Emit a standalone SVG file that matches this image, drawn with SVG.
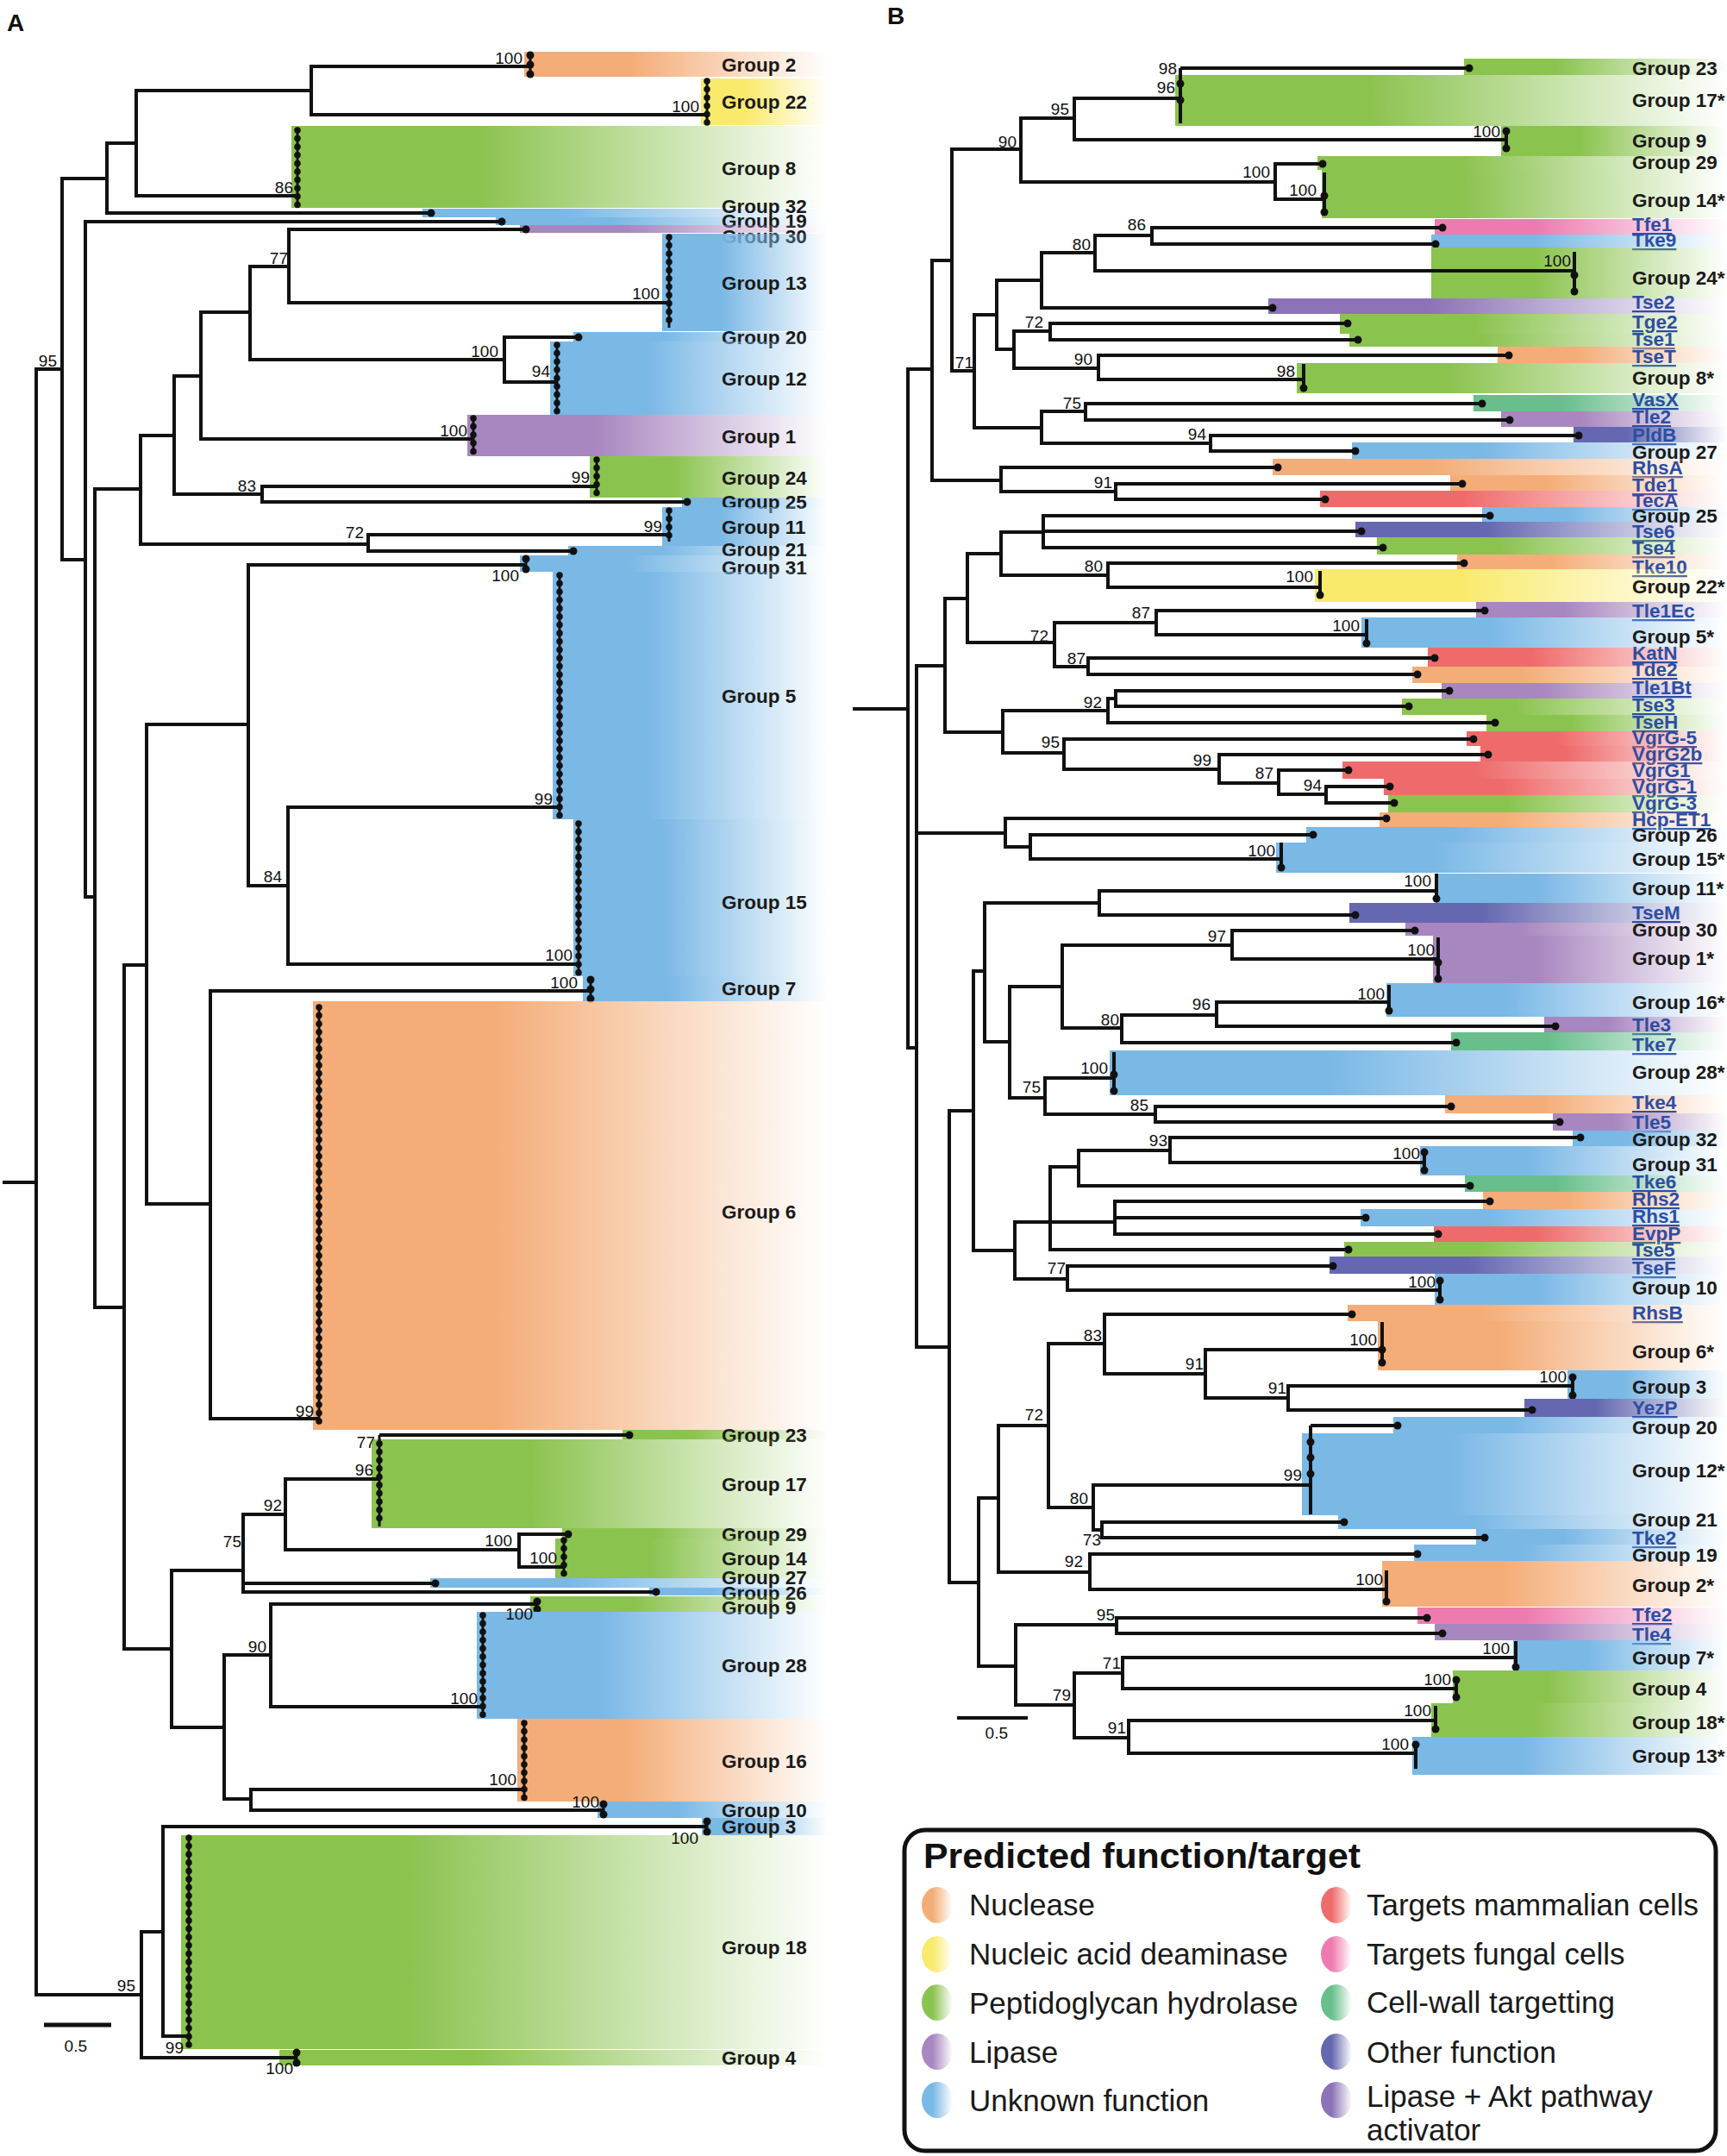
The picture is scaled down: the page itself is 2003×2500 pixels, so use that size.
<svg xmlns="http://www.w3.org/2000/svg" width="2003" height="2500" viewBox="0 0 2003 2500">
<defs>
<linearGradient id="gO"><stop offset="0" stop-color="#f4ad78"/><stop offset="0.35" stop-color="#f4ad78"/><stop offset="1" stop-color="#f4ad78" stop-opacity="0"/></linearGradient>
<linearGradient id="gY"><stop offset="0" stop-color="#f9ea6c"/><stop offset="0.35" stop-color="#f9ea6c"/><stop offset="1" stop-color="#f9ea6c" stop-opacity="0"/></linearGradient>
<linearGradient id="gG"><stop offset="0" stop-color="#8bc34f"/><stop offset="0.35" stop-color="#8bc34f"/><stop offset="1" stop-color="#8bc34f" stop-opacity="0"/></linearGradient>
<linearGradient id="gP"><stop offset="0" stop-color="#a886bf"/><stop offset="0.35" stop-color="#a886bf"/><stop offset="1" stop-color="#a886bf" stop-opacity="0"/></linearGradient>
<linearGradient id="gB"><stop offset="0" stop-color="#7ab8e6"/><stop offset="0.35" stop-color="#7ab8e6"/><stop offset="1" stop-color="#7ab8e6" stop-opacity="0"/></linearGradient>
<linearGradient id="gR"><stop offset="0" stop-color="#ef6b6b"/><stop offset="0.35" stop-color="#ef6b6b"/><stop offset="1" stop-color="#ef6b6b" stop-opacity="0"/></linearGradient>
<linearGradient id="gK"><stop offset="0" stop-color="#ee7bb0"/><stop offset="0.35" stop-color="#ee7bb0"/><stop offset="1" stop-color="#ee7bb0" stop-opacity="0"/></linearGradient>
<linearGradient id="gT"><stop offset="0" stop-color="#68bf8c"/><stop offset="0.35" stop-color="#68bf8c"/><stop offset="1" stop-color="#68bf8c" stop-opacity="0"/></linearGradient>
<linearGradient id="gI"><stop offset="0" stop-color="#6568b0"/><stop offset="0.35" stop-color="#6568b0"/><stop offset="1" stop-color="#6568b0" stop-opacity="0"/></linearGradient>
<linearGradient id="gA"><stop offset="0" stop-color="#8c73b7"/><stop offset="0.35" stop-color="#8c73b7"/><stop offset="1" stop-color="#8c73b7" stop-opacity="0"/></linearGradient>
</defs>
<style>
.br{fill:none;stroke:#111;stroke-width:4}
.cl{fill:none;stroke:#111;stroke-width:3}
.dt{fill:none;stroke:#111;stroke-width:7.5;stroke-linecap:round;stroke-dasharray:0 9.6}
.tp{fill:#111}
.gl{font-family:"Liberation Sans",Arial,sans-serif;font-weight:bold;font-size:22.5px;fill:#1a1a1a}
.ul{font-family:"Liberation Sans",Arial,sans-serif;font-weight:bold;font-size:22.5px;fill:#2d4ea3;text-decoration:underline}
.bs{font-family:"Liberation Sans",Arial,sans-serif;font-size:19px;fill:#111;text-anchor:end}
.pl{font-family:"Liberation Sans",Arial,sans-serif;font-weight:bold;font-size:28px;fill:#111}
.lt{font-family:"Liberation Sans",Arial,sans-serif;font-size:35px;fill:#1a1a1a}
.lh{font-family:"Liberation Sans",Arial,sans-serif;font-weight:bold;font-size:40px;fill:#111}
.o{fill:url(#gO)}.y{fill:url(#gY)}.g{fill:url(#gG)}.p{fill:url(#gP)}.b{fill:url(#gB)}.r{fill:url(#gR)}.k{fill:url(#gK)}.t{fill:url(#gT)}.i{fill:url(#gI)}.a{fill:url(#gA)}
</style>
<rect width="2003" height="2500" fill="#fff"/>
<text class="pl" x="8" y="36">A</text>
<text class="pl" x="1029" y="28">B</text>

<!-- Panel A leaves -->
<g id="A-leaves">
<g id="a-group2"><rect class="o" x="608" y="60" width="352" height="29"/><path class="cl" d="M615 64V86"/><circle class="tp" cx="615" cy="64" r="4.5"/><circle class="tp" cx="615" cy="75" r="4.5"/><circle class="tp" cx="615" cy="86" r="4.5"/><text class="gl" x="837" y="83">Group 2</text></g>
<g id="a-group22"><rect class="y" x="813" y="91" width="147" height="54"/><path class="cl" d="M820 94V143"/><path class="dt" d="M820 94V143"/><text class="gl" x="837" y="126">Group 22</text></g>
<g id="a-group8"><rect class="g" x="338" y="146" width="622" height="95"/><path class="cl" d="M345 151V238"/><path class="dt" d="M345 151V238"/><text class="gl" x="837" y="203">Group 8</text></g>
<g id="a-group32"><rect class="b" x="490" y="242" width="470" height="10"/><circle class="tp" cx="500" cy="247" r="4.5"/><text class="gl" x="837" y="247">Group 32</text></g>
<g id="a-group19"><rect class="b" x="575" y="252" width="385" height="9"/><circle class="tp" cx="582" cy="257" r="4.5"/><text class="gl" x="837" y="264">Group 19</text></g>
<g id="a-group30"><rect class="p" x="603" y="261" width="357" height="9"/><circle class="tp" cx="610" cy="266" r="4.5"/><text class="gl" x="837" y="282">Group 30</text></g>
<g id="a-group13"><rect class="b" x="768" y="271" width="192" height="113"/><path class="cl" d="M776 275V380"/><path class="dt" d="M776 275V380"/><text class="gl" x="837" y="336">Group 13</text></g>
<g id="a-group20"><rect class="b" x="665" y="385" width="295" height="11"/><circle class="tp" cx="671" cy="391" r="4.5"/><text class="gl" x="837" y="399">Group 20</text></g>
<g id="a-group12"><rect class="b" x="638" y="396" width="322" height="85"/><path class="cl" d="M646 400V477"/><path class="dt" d="M646 400V477"/><text class="gl" x="837" y="447">Group 12</text></g>
<g id="a-group1"><rect class="p" x="542" y="481" width="418" height="48"/><path class="cl" d="M549 485V525"/><path class="dt" d="M549 485V525"/><text class="gl" x="837" y="514">Group 1</text></g>
<g id="a-group24"><rect class="g" x="684" y="529" width="276" height="48"/><path class="cl" d="M692 533V573"/><path class="dt" d="M692 533V573"/><text class="gl" x="837" y="562">Group 24</text></g>
<g id="a-group25"><rect class="b" x="791" y="577" width="169" height="11"/><circle class="tp" cx="797" cy="582" r="4.5"/><text class="gl" x="837" y="590">Group 25</text></g>
<g id="a-group11"><rect class="b" x="768" y="588" width="192" height="45"/><path class="cl" d="M776 592V628"/><path class="dt" d="M776 592V628"/><text class="gl" x="837" y="619">Group 11</text></g>
<g id="a-group21"><rect class="b" x="659" y="633" width="301" height="11"/><circle class="tp" cx="665" cy="639" r="4.5"/><text class="gl" x="837" y="645">Group 21</text></g>
<g id="a-group31"><rect class="b" x="603" y="644" width="357" height="19"/><path class="cl" d="M610 648V660"/><circle class="tp" cx="610" cy="648" r="4.5"/><circle class="tp" cx="610" cy="660" r="4.5"/><text class="gl" x="837" y="666">Group 31</text></g>
<g id="a-group5"><rect class="b" x="641" y="663" width="319" height="287"/><path class="cl" d="M649 667V946"/><path class="dt" d="M649 667V946"/><text class="gl" x="837" y="815">Group 5</text></g>
<g id="a-group15"><rect class="b" x="665" y="950" width="295" height="182"/><path class="cl" d="M671 955V1128"/><path class="dt" d="M671 955V1128"/><text class="gl" x="837" y="1054">Group 15</text></g>
<g id="a-group7"><rect class="b" x="676" y="1132" width="284" height="29"/><path class="cl" d="M685 1136V1158"/><circle class="tp" cx="685" cy="1136" r="4.5"/><circle class="tp" cx="685" cy="1147" r="4.5"/><circle class="tp" cx="685" cy="1158" r="4.5"/><text class="gl" x="837" y="1154">Group 7</text></g>
<g id="a-group6"><rect class="o" x="363" y="1161" width="597" height="497"/><path class="cl" d="M370 1168V1651"/><path class="dt" d="M370 1168V1651"/><text class="gl" x="837" y="1413">Group 6</text></g>
<g id="a-group23"><rect class="g" x="722" y="1658" width="238" height="11"/><circle class="tp" cx="730" cy="1664" r="4.5"/><text class="gl" x="837" y="1672">Group 23</text></g>
<g id="a-group17"><rect class="g" x="431" y="1669" width="529" height="103"/><path class="cl" d="M440 1664V1770"/><path class="dt" d="M440 1674V1770"/><text class="gl" x="837" y="1729">Group 17</text></g>
<g id="a-group29"><rect class="g" x="652" y="1772" width="308" height="12"/><circle class="tp" cx="659" cy="1779" r="4.5"/><text class="gl" x="837" y="1787">Group 29</text></g>
<g id="a-group14"><rect class="g" x="644" y="1784" width="316" height="46"/><path class="cl" d="M654 1786V1828"/><path class="dt" d="M654 1786V1828"/><text class="gl" x="837" y="1815">Group 14</text></g>
<g id="a-group27"><rect class="b" x="499" y="1830" width="461" height="11"/><circle class="tp" cx="505" cy="1836" r="4.5"/><text class="gl" x="837" y="1837">Group 27</text></g>
<g id="a-group26"><rect class="b" x="753" y="1841" width="207" height="9"/><circle class="tp" cx="761" cy="1846" r="4.5"/><text class="gl" x="837" y="1855">Group 26</text></g>
<g id="a-group9"><rect class="g" x="615" y="1851" width="345" height="18"/><path class="cl" d="M623 1857V1866"/><circle class="tp" cx="623" cy="1857" r="4.5"/><circle class="tp" cx="623" cy="1866" r="4.5"/><text class="gl" x="837" y="1872">Group 9</text></g>
<g id="a-group28"><rect class="b" x="553" y="1869" width="407" height="124"/><path class="cl" d="M560 1873V1990"/><path class="dt" d="M560 1873V1990"/><text class="gl" x="837" y="1939">Group 28</text></g>
<g id="a-group16"><rect class="o" x="600" y="1993" width="360" height="96"/><path class="cl" d="M608 1998V2085"/><path class="dt" d="M608 1998V2085"/><text class="gl" x="837" y="2050">Group 16</text></g>
<g id="a-group10"><rect class="b" x="693" y="2089" width="267" height="19"/><path class="cl" d="M700 2092V2104"/><circle class="tp" cx="700" cy="2092" r="4.5"/><circle class="tp" cx="700" cy="2104" r="4.5"/><text class="gl" x="837" y="2107">Group 10</text></g>
<g id="a-group3"><rect class="b" x="814" y="2108" width="146" height="20"/><path class="cl" d="M820 2112V2124"/><circle class="tp" cx="820" cy="2112" r="4.5"/><circle class="tp" cx="820" cy="2124" r="4.5"/><text class="gl" x="837" y="2126">Group 3</text></g>
<g id="a-group18"><rect class="g" x="210" y="2128" width="750" height="248"/><path class="cl" d="M219 2131V2372"/><path class="dt" d="M219 2131V2372"/><text class="gl" x="837" y="2266">Group 18</text></g>
<g id="a-group4"><rect class="g" x="324" y="2377" width="636" height="18"/><path class="cl" d="M344 2380V2392"/><circle class="tp" cx="344" cy="2380" r="4.5"/><circle class="tp" cx="344" cy="2392" r="4.5"/><text class="gl" x="837" y="2394">Group 4</text></g>
</g>

<!-- Panel B leaves -->
<g id="B-leaves">
<g id="b-group23"><rect class="g" x="1698" y="68" width="305" height="19"/><circle class="tp" cx="1704" cy="79" r="4.5"/><text class="gl" x="1893" y="87">Group 23</text></g>
<g id="b-group17"><rect class="g" x="1363" y="87" width="640" height="59"/><path class="br" d="M1369 79V143"/><circle class="tp" cx="1369" cy="97" r="4.5"/><circle class="tp" cx="1369" cy="116" r="4.5"/><text class="gl" x="1893" y="124">Group 17*</text></g>
<g id="b-group9"><rect class="g" x="1741" y="146" width="262" height="35"/><path class="br" d="M1747 152V172"/><circle class="tp" cx="1747" cy="152" r="4.5"/><circle class="tp" cx="1747" cy="172" r="4.5"/><text class="gl" x="1893" y="171">Group 9</text></g>
<g id="b-group29"><rect class="g" x="1528" y="181" width="475" height="16"/><circle class="tp" cx="1534" cy="190" r="4.5"/><text class="gl" x="1893" y="196">Group 29</text></g>
<g id="b-group14"><rect class="g" x="1533" y="197" width="470" height="56"/><path class="br" d="M1536 200V247"/><circle class="tp" cx="1536" cy="227" r="4.5"/><circle class="tp" cx="1536" cy="246" r="4.5"/><text class="gl" x="1893" y="240">Group 14*</text></g>
<g id="b-tfe1"><rect class="k" x="1664" y="254" width="339" height="18"/><circle class="tp" cx="1673" cy="264" r="4.5"/><text class="ul" x="1893" y="268">Tfe1</text></g>
<g id="b-tke9"><rect class="b" x="1660" y="272" width="343" height="15"/><circle class="tp" cx="1665" cy="283" r="4.5"/><text class="ul" x="1893" y="286">Tke9</text></g>
<g id="b-group24"><rect class="g" x="1660" y="287" width="343" height="59"/><path class="br" d="M1826 292V338"/><circle class="tp" cx="1826" cy="319" r="4.5"/><circle class="tp" cx="1826" cy="338" r="4.5"/><text class="gl" x="1893" y="330">Group 24*</text></g>
<g id="b-tse2"><rect class="a" x="1471" y="346" width="532" height="18"/><circle class="tp" cx="1476" cy="357" r="4.5"/><text class="ul" x="1893" y="358">Tse2</text></g>
<g id="b-tge2"><rect class="g" x="1554" y="364" width="449" height="23"/><circle class="tp" cx="1563" cy="375" r="4.5"/><text class="ul" x="1893" y="381">Tge2</text></g>
<g id="b-tse1"><rect class="g" x="1565" y="387" width="438" height="15"/><circle class="tp" cx="1575" cy="394" r="4.5"/><text class="ul" x="1893" y="401">Tse1</text></g>
<g id="b-tset"><rect class="o" x="1737" y="402" width="266" height="19"/><circle class="tp" cx="1750" cy="412" r="4.5"/><text class="ul" x="1893" y="421">TseT</text></g>
<g id="b-group8"><rect class="g" x="1504" y="421" width="499" height="35"/><path class="br" d="M1512 422V450"/><circle class="tp" cx="1512" cy="450" r="4.5"/><text class="gl" x="1893" y="446">Group 8*</text></g>
<g id="b-vasx"><rect class="t" x="1709" y="458" width="294" height="19"/><circle class="tp" cx="1719" cy="468" r="4.5"/><text class="ul" x="1893" y="471">VasX</text></g>
<g id="b-tle2"><rect class="p" x="1741" y="477" width="262" height="18"/><circle class="tp" cx="1751" cy="487" r="4.5"/><text class="ul" x="1893" y="491">Tle2</text></g>
<g id="b-pldb"><rect class="i" x="1825" y="495" width="178" height="18"/><circle class="tp" cx="1831" cy="505" r="4.5"/><text class="ul" x="1893" y="512">PldB</text></g>
<g id="b-group27"><rect class="b" x="1568" y="513" width="435" height="19"/><circle class="tp" cx="1572" cy="523" r="4.5"/><text class="gl" x="1893" y="532">Group 27</text></g>
<g id="b-rhsa"><rect class="o" x="1476" y="532" width="527" height="19"/><circle class="tp" cx="1482" cy="542" r="4.5"/><text class="ul" x="1893" y="550">RhsA</text></g>
<g id="b-tde1"><rect class="o" x="1682" y="551" width="321" height="18"/><circle class="tp" cx="1696" cy="561" r="4.5"/><text class="ul" x="1893" y="570">Tde1</text></g>
<g id="b-teca"><rect class="r" x="1531" y="569" width="472" height="19"/><circle class="tp" cx="1537" cy="579" r="4.5"/><text class="ul" x="1893" y="588">TecA</text></g>
<g id="b-group25"><rect class="b" x="1719" y="588" width="284" height="17"/><circle class="tp" cx="1728" cy="598" r="4.5"/><text class="gl" x="1893" y="606">Group 25</text></g>
<g id="b-tse6"><rect class="i" x="1572" y="605" width="431" height="18"/><circle class="tp" cx="1579" cy="616" r="4.5"/><text class="ul" x="1893" y="624">Tse6</text></g>
<g id="b-tse4"><rect class="g" x="1597" y="623" width="406" height="20"/><circle class="tp" cx="1604" cy="635" r="4.5"/><text class="ul" x="1893" y="643">Tse4</text></g>
<g id="b-tke10"><rect class="o" x="1690" y="643" width="313" height="17"/><circle class="tp" cx="1698" cy="653" r="4.5"/><text class="ul" x="1893" y="665">Tke10</text></g>
<g id="b-group22"><rect class="y" x="1525" y="660" width="478" height="38"/><path class="br" d="M1531 662V690"/><circle class="tp" cx="1531" cy="690" r="4.5"/><text class="gl" x="1893" y="688">Group 22*</text></g>
<g id="b-tle1ec"><rect class="p" x="1712" y="698" width="291" height="18"/><circle class="tp" cx="1722" cy="708" r="4.5"/><text class="ul" x="1893" y="716">Tle1Ec</text></g>
<g id="b-group5"><rect class="b" x="1579" y="716" width="424" height="35"/><path class="br" d="M1585 718V746"/><circle class="tp" cx="1585" cy="746" r="4.5"/><text class="gl" x="1893" y="746">Group 5*</text></g>
<g id="b-katn"><rect class="r" x="1656" y="751" width="347" height="22"/><circle class="tp" cx="1664" cy="763" r="4.5"/><text class="ul" x="1893" y="765">KatN</text></g>
<g id="b-tde2"><rect class="o" x="1638" y="773" width="365" height="19"/><circle class="tp" cx="1644" cy="782" r="4.5"/><text class="ul" x="1893" y="784">Tde2</text></g>
<g id="b-tle1bt"><rect class="p" x="1672" y="792" width="331" height="18"/><circle class="tp" cx="1681" cy="801" r="4.5"/><text class="ul" x="1893" y="805">Tle1Bt</text></g>
<g id="b-tse3"><rect class="g" x="1626" y="810" width="377" height="19"/><circle class="tp" cx="1634" cy="819" r="4.5"/><text class="ul" x="1893" y="825">Tse3</text></g>
<g id="b-tseh"><rect class="g" x="1724" y="829" width="279" height="19"/><circle class="tp" cx="1734" cy="838" r="4.5"/><text class="ul" x="1893" y="845">TseH</text></g>
<g id="b-vgrg-5"><rect class="r" x="1701" y="848" width="302" height="17"/><circle class="tp" cx="1709" cy="857" r="4.5"/><text class="ul" x="1893" y="863">VgrG-5</text></g>
<g id="b-vgrg2b"><rect class="r" x="1717" y="865" width="286" height="18"/><circle class="tp" cx="1726" cy="875" r="4.5"/><text class="ul" x="1893" y="882">VgrG2b</text></g>
<g id="b-vgrg1"><rect class="r" x="1557" y="883" width="446" height="20"/><circle class="tp" cx="1564" cy="893" r="4.5"/><text class="ul" x="1893" y="901">VgrG1</text></g>
<g id="b-vgrg-1"><rect class="r" x="1605" y="903" width="398" height="19"/><circle class="tp" cx="1612" cy="912" r="4.5"/><text class="ul" x="1893" y="920">VgrG-1</text></g>
<g id="b-vgrg-3"><rect class="g" x="1610" y="922" width="393" height="20"/><circle class="tp" cx="1617" cy="931" r="4.5"/><text class="ul" x="1893" y="939">VgrG-3</text></g>
<g id="b-hcp-et1"><rect class="o" x="1600" y="942" width="403" height="17"/><circle class="tp" cx="1608" cy="949" r="4.5"/><text class="ul" x="1893" y="958">Hcp-ET1</text></g>
<g id="b-group26"><rect class="b" x="1515" y="959" width="488" height="18"/><circle class="tp" cx="1523" cy="968" r="4.5"/><text class="gl" x="1893" y="976">Group 26</text></g>
<g id="b-group15"><rect class="b" x="1480" y="977" width="523" height="35"/><path class="br" d="M1486 977V1006"/><circle class="tp" cx="1486" cy="1006" r="4.5"/><text class="gl" x="1893" y="1004">Group 15*</text></g>
<g id="b-group11"><rect class="b" x="1665" y="1013" width="338" height="34"/><path class="br" d="M1666 1013V1042"/><circle class="tp" cx="1666" cy="1042" r="4.5"/><text class="gl" x="1893" y="1038">Group 11*</text></g>
<g id="b-tsem"><rect class="i" x="1565" y="1047" width="438" height="23"/><circle class="tp" cx="1572" cy="1061" r="4.5"/><text class="ul" x="1893" y="1066">TseM</text></g>
<g id="b-group30"><rect class="p" x="1630" y="1070" width="373" height="15"/><circle class="tp" cx="1641" cy="1079" r="4.5"/><text class="gl" x="1893" y="1086">Group 30</text></g>
<g id="b-group1"><rect class="p" x="1662" y="1085" width="341" height="55"/><path class="br" d="M1668 1087V1135"/><circle class="tp" cx="1668" cy="1116" r="4.5"/><circle class="tp" cx="1668" cy="1135" r="4.5"/><text class="gl" x="1893" y="1119">Group 1*</text></g>
<g id="b-group16"><rect class="b" x="1608" y="1140" width="395" height="39"/><path class="br" d="M1611 1142V1172"/><circle class="tp" cx="1611" cy="1172" r="4.5"/><text class="gl" x="1893" y="1170">Group 16*</text></g>
<g id="b-tle3"><rect class="p" x="1791" y="1179" width="212" height="18"/><circle class="tp" cx="1804" cy="1190" r="4.5"/><text class="ul" x="1893" y="1196">Tle3</text></g>
<g id="b-tke7"><rect class="t" x="1683" y="1197" width="320" height="21"/><circle class="tp" cx="1689" cy="1209" r="4.5"/><text class="ul" x="1893" y="1219">Tke7</text></g>
<g id="b-group28"><rect class="b" x="1287" y="1218" width="716" height="52"/><path class="br" d="M1292 1220V1265"/><circle class="tp" cx="1292" cy="1246" r="4.5"/><circle class="tp" cx="1292" cy="1265" r="4.5"/><text class="gl" x="1893" y="1251">Group 28*</text></g>
<g id="b-tke4"><rect class="o" x="1676" y="1270" width="327" height="21"/><circle class="tp" cx="1683" cy="1283" r="4.5"/><text class="ul" x="1893" y="1286">Tke4</text></g>
<g id="b-tle5"><rect class="p" x="1801" y="1291" width="202" height="20"/><circle class="tp" cx="1809" cy="1301" r="4.5"/><text class="ul" x="1893" y="1309">Tle5</text></g>
<g id="b-group32"><rect class="b" x="1824" y="1311" width="179" height="18"/><circle class="tp" cx="1833" cy="1319" r="4.5"/><text class="gl" x="1893" y="1329">Group 32</text></g>
<g id="b-group31"><rect class="b" x="1647" y="1329" width="356" height="34"/><path class="br" d="M1652 1336V1357"/><circle class="tp" cx="1652" cy="1336" r="4.5"/><circle class="tp" cx="1652" cy="1357" r="4.5"/><text class="gl" x="1893" y="1358">Group 31</text></g>
<g id="b-tke6"><rect class="t" x="1699" y="1363" width="304" height="19"/><circle class="tp" cx="1705" cy="1375" r="4.5"/><text class="ul" x="1893" y="1378">Tke6</text></g>
<g id="b-rhs2"><rect class="o" x="1720" y="1382" width="283" height="20"/><circle class="tp" cx="1728" cy="1393" r="4.5"/><text class="ul" x="1893" y="1398">Rhs2</text></g>
<g id="b-rhs1"><rect class="b" x="1578" y="1402" width="425" height="20"/><circle class="tp" cx="1584" cy="1412" r="4.5"/><text class="ul" x="1893" y="1418">Rhs1</text></g>
<g id="b-evpp"><rect class="r" x="1663" y="1422" width="340" height="18"/><circle class="tp" cx="1668" cy="1431" r="4.5"/><text class="ul" x="1893" y="1438">EvpP</text></g>
<g id="b-tse5"><rect class="g" x="1559" y="1440" width="444" height="17"/><circle class="tp" cx="1564" cy="1449" r="4.5"/><text class="ul" x="1893" y="1457">Tse5</text></g>
<g id="b-tsef"><rect class="i" x="1542" y="1457" width="461" height="20"/><circle class="tp" cx="1546" cy="1468" r="4.5"/><text class="ul" x="1893" y="1478">TseF</text></g>
<g id="b-group10"><rect class="b" x="1664" y="1477" width="339" height="36"/><path class="br" d="M1670 1485V1507"/><circle class="tp" cx="1670" cy="1485" r="4.5"/><circle class="tp" cx="1670" cy="1507" r="4.5"/><text class="gl" x="1893" y="1501">Group 10</text></g>
<g id="b-rhsb"><rect class="o" x="1563" y="1513" width="440" height="19"/><circle class="tp" cx="1568" cy="1524" r="4.5"/><text class="ul" x="1893" y="1530">RhsB</text></g>
<g id="b-group6"><rect class="o" x="1598" y="1532" width="405" height="57"/><path class="br" d="M1603 1533V1580"/><circle class="tp" cx="1603" cy="1565" r="4.5"/><circle class="tp" cx="1603" cy="1580" r="4.5"/><text class="gl" x="1893" y="1575">Group 6*</text></g>
<g id="b-group3"><rect class="b" x="1818" y="1589" width="185" height="33"/><path class="br" d="M1824 1597V1618"/><circle class="tp" cx="1824" cy="1597" r="4.5"/><circle class="tp" cx="1824" cy="1618" r="4.5"/><text class="gl" x="1893" y="1616">Group 3</text></g>
<g id="b-yezp"><rect class="i" x="1768" y="1622" width="235" height="21"/><circle class="tp" cx="1777" cy="1635" r="4.5"/><text class="ul" x="1893" y="1640">YezP</text></g>
<g id="b-group20"><rect class="b" x="1616" y="1643" width="387" height="19"/><circle class="tp" cx="1621" cy="1653" r="4.5"/><text class="gl" x="1893" y="1663">Group 20</text></g>
<g id="b-group12"><rect class="b" x="1510" y="1662" width="493" height="95"/><path class="br" d="M1520 1653V1756"/><circle class="tp" cx="1520" cy="1672" r="4.5"/><circle class="tp" cx="1520" cy="1690" r="4.5"/><circle class="tp" cx="1520" cy="1709" r="4.5"/><text class="gl" x="1893" y="1713">Group 12*</text></g>
<g id="b-group21"><rect class="b" x="1552" y="1757" width="451" height="16"/><circle class="tp" cx="1559" cy="1765" r="4.5"/><text class="gl" x="1893" y="1770">Group 21</text></g>
<g id="b-tke2"><rect class="b" x="1712" y="1773" width="291" height="18"/><circle class="tp" cx="1722" cy="1783" r="4.5"/><text class="ul" x="1893" y="1791">Tke2</text></g>
<g id="b-group19"><rect class="b" x="1640" y="1791" width="363" height="19"/><circle class="tp" cx="1644" cy="1802" r="4.5"/><text class="gl" x="1893" y="1811">Group 19</text></g>
<g id="b-group2"><rect class="o" x="1603" y="1810" width="400" height="53"/><path class="br" d="M1608 1821V1857"/><circle class="tp" cx="1608" cy="1857" r="4.5"/><text class="gl" x="1893" y="1846">Group 2*</text></g>
<g id="b-tfe2"><rect class="k" x="1644" y="1864" width="359" height="19"/><circle class="tp" cx="1655" cy="1876" r="4.5"/><text class="ul" x="1893" y="1880">Tfe2</text></g>
<g id="b-tle4"><rect class="p" x="1664" y="1883" width="339" height="19"/><circle class="tp" cx="1673" cy="1894" r="4.5"/><text class="ul" x="1893" y="1903">Tle4</text></g>
<g id="b-group7"><rect class="b" x="1755" y="1902" width="248" height="35"/><path class="br" d="M1758 1903V1933"/><circle class="tp" cx="1758" cy="1933" r="4.5"/><text class="gl" x="1893" y="1930">Group 7*</text></g>
<g id="b-group4"><rect class="g" x="1685" y="1937" width="318" height="38"/><path class="br" d="M1689 1948V1968"/><circle class="tp" cx="1689" cy="1948" r="4.5"/><circle class="tp" cx="1689" cy="1968" r="4.5"/><text class="gl" x="1893" y="1966">Group 4</text></g>
<g id="b-group18"><rect class="g" x="1660" y="1975" width="343" height="39"/><path class="br" d="M1665 1978V2005"/><circle class="tp" cx="1665" cy="2005" r="4.5"/><text class="gl" x="1893" y="2005">Group 18*</text></g>
<g id="b-group13"><rect class="b" x="1638" y="2014" width="365" height="44"/><path class="br" d="M1642 2023V2051"/><circle class="tp" cx="1642" cy="2023" r="4.5"/><text class="gl" x="1893" y="2044">Group 13*</text></g>
</g>

<!-- connectors -->
<g id="connectors">
<path class="br" d="M3 1371H42 M72 428H42V2313H164 M124 207H72V649H99 M158 166H124V247H500 M361 105H158V227H345 M615 77H361V133H820 M582 257H99V1040H110 M163 567H110V1516H144 M202 505H163V631H427 M233 436H202V573H304 M290 362H233V509H549 M335 309H290V417H585 M610 266H335V351H776 M671 391H585V443H646 M692 564H304V582H797 M776 620H427V639H665 M170 1119H144V1912H199 M288 840H170V1396H244 M610 655H288V1027H334 M649 936H334V1118H671 M685 1149H244V1645H370 M282 1821H199V2003H260 M331 1756H282V1846H761 M282 1836H505 M440 1715H331V1797H602 M730 1664H440 M659 1779H602V1817H654 M314 1919H260V2086H291 M623 1860H314V1979H560 M608 2075H291V2099H700 M189 2240H164V2386H344 M820 2118H189V2361H219"/>
<path class="br" d="M989 822H1053 M1081 428H1053V1215H1063 M1104 302H1081V557H1161 M1184 173H1104V430H1130 M1246 137H1184V211H1479 M1369 114H1246V162H1747 M1704 79H1369 M1534 190H1479V231H1536 M1156 365H1130V496H1208 M1208 325H1156V405H1176 M1270 293H1208V357H1476 M1336 273H1270V314H1826 M1673 264H1336V283H1665 M1218 384H1176V427H1274 M1563 375H1218V394H1575 M1750 412H1274V440H1512 M1259 477H1208V514H1404 M1719 468H1259V487H1751 M1831 505H1404V523H1572 M1482 542H1161V570H1294 M1696 561H1294V579H1537 M1096 772H1063V1562H1101 M1063 966H1166 M1122 694H1096V849H1163 M1161 642H1122V745H1223 M1210 617H1161V667H1285 M1728 598H1210V635H1604 M1210 616H1579 M1698 653H1285V681H1531 M1341 722H1223V773H1262 M1722 708H1341V736H1585 M1664 763H1262V782H1644 M1285 824H1163V873H1234 M1294 810H1285V838H1734 M1681 801H1294V819H1634 M1709 857H1234V892H1414 M1726 875H1414V908H1483 M1564 893H1483V921H1538 M1612 912H1538V931H1617 M1608 949H1166V982H1195 M1523 968H1195V996H1486 M1129 1288H1101V1835H1135 M1142 1126H1129V1450H1177 M1275 1047H1142V1208H1171 M1666 1033H1275V1061H1572 M1232 1144H1171V1273H1212 M1429 1096H1232V1192H1301 M1641 1079H1429V1112H1668 M1411 1177H1301V1209H1689 M1611 1162H1411V1190H1804 M1292 1250H1212V1292H1340 M1683 1283H1340V1301H1809 M1218 1417H1177V1483H1238 M1251 1353H1218V1449H1564 M1218 1417H1293 M1357 1334H1251V1375H1705 M1833 1319H1357V1348H1652 M1728 1393H1293V1431H1668 M1293 1412H1584 M1546 1468H1238V1496H1670 M1158 1737H1135V1932H1178 M1216 1653H1158V1823H1264 M1281 1558H1216V1748H1268 M1568 1524H1281V1593H1398 M1603 1565H1398V1621H1494 M1824 1607H1494V1635H1777 M1520 1722H1268V1774H1278 M1621 1653H1520 M1559 1765H1278V1783H1722 M1644 1802H1264V1843H1608 M1295 1884H1178V1977H1246 M1655 1876H1295V1894H1673 M1302 1940H1246V2015H1309 M1758 1922H1302V1958H1689 M1665 1995H1309V2033H1642"/>
</g>

<!-- support values -->
<g id="support-A">
<text class="bs" x="606" y="74">100</text><text class="bs" x="811" y="130">100</text><text class="bs" x="340" y="224">86</text><text class="bs" x="334" y="306">77</text><text class="bs" x="765" y="347">100</text><text class="bs" x="578" y="414">100</text><text class="bs" x="638" y="437">94</text><text class="bs" x="542" y="506">100</text><text class="bs" x="684" y="560">99</text><text class="bs" x="297" y="570">83</text><text class="bs" x="768" y="617">99</text><text class="bs" x="422" y="624">72</text><text class="bs" x="66" y="425">95</text><text class="bs" x="602" y="674">100</text><text class="bs" x="641" y="933">99</text><text class="bs" x="327" y="1023">84</text><text class="bs" x="664" y="1114">100</text><text class="bs" x="670" y="1146">100</text><text class="bs" x="364" y="1643">99</text><text class="bs" x="435" y="1679">77</text><text class="bs" x="433" y="1711">96</text><text class="bs" x="327" y="1752">92</text><text class="bs" x="280" y="1794">75</text><text class="bs" x="594" y="1793">100</text><text class="bs" x="646" y="1813">100</text><text class="bs" x="618" y="1878">100</text><text class="bs" x="309" y="1916">90</text><text class="bs" x="554" y="1976">100</text><text class="bs" x="599" y="2070">100</text><text class="bs" x="695" y="2096">100</text><text class="bs" x="810" y="2138">100</text><text class="bs" x="157" y="2309">95</text><text class="bs" x="213" y="2381">99</text><text class="bs" x="340" y="2405">100</text>
</g>
<g id="support-B">
<text class="bs" x="1365" y="86">98</text><text class="bs" x="1363" y="108">96</text><text class="bs" x="1240" y="133">95</text><text class="bs" x="1179" y="171">90</text><text class="bs" x="1740" y="159">100</text><text class="bs" x="1473" y="206">100</text><text class="bs" x="1527" y="227">100</text><text class="bs" x="1329" y="267">86</text><text class="bs" x="1265" y="290">80</text><text class="bs" x="1822" y="309">100</text><text class="bs" x="1210" y="380">72</text><text class="bs" x="1267" y="423">90</text><text class="bs" x="1129" y="427">71</text><text class="bs" x="1502" y="437">98</text><text class="bs" x="1254" y="474">75</text><text class="bs" x="1399" y="510">94</text><text class="bs" x="1290" y="566">91</text><text class="bs" x="1279" y="663">80</text><text class="bs" x="1523" y="675">100</text><text class="bs" x="1334" y="717">87</text><text class="bs" x="1577" y="732">100</text><text class="bs" x="1216" y="744">72</text><text class="bs" x="1259" y="770">87</text><text class="bs" x="1278" y="821">92</text><text class="bs" x="1229" y="867">95</text><text class="bs" x="1405" y="888">99</text><text class="bs" x="1477" y="903">87</text><text class="bs" x="1533" y="917">94</text><text class="bs" x="1479" y="993">100</text><text class="bs" x="1660" y="1028">100</text><text class="bs" x="1422" y="1092">97</text><text class="bs" x="1664" y="1108">100</text><text class="bs" x="1606" y="1159">100</text><text class="bs" x="1404" y="1171">96</text><text class="bs" x="1298" y="1189">80</text><text class="bs" x="1285" y="1245">100</text><text class="bs" x="1207" y="1267">75</text><text class="bs" x="1332" y="1288">85</text><text class="bs" x="1354" y="1329">93</text><text class="bs" x="1647" y="1344">100</text><text class="bs" x="1236" y="1477">77</text><text class="bs" x="1665" y="1493">100</text><text class="bs" x="1278" y="1555">83</text><text class="bs" x="1597" y="1560">100</text><text class="bs" x="1396" y="1588">91</text><text class="bs" x="1817" y="1603">100</text><text class="bs" x="1492" y="1616">91</text><text class="bs" x="1210" y="1647">72</text><text class="bs" x="1510" y="1717">99</text><text class="bs" x="1262" y="1744">80</text><text class="bs" x="1277" y="1792">73</text><text class="bs" x="1256" y="1817">92</text><text class="bs" x="1604" y="1838">100</text><text class="bs" x="1293" y="1879">95</text><text class="bs" x="1751" y="1918">100</text><text class="bs" x="1300" y="1935">71</text><text class="bs" x="1683" y="1954">100</text><text class="bs" x="1242" y="1972">79</text><text class="bs" x="1660" y="1990">100</text><text class="bs" x="1306" y="2010">91</text><text class="bs" x="1634" y="2029">100</text>
</g>

<!-- scale bars -->
<g id="scale-A"><path d="M51 2348H129" stroke="#111" stroke-width="5"/><text class="bs" x="101" y="2379">0.5</text></g>
<g id="scale-B"><path d="M1110 1992H1192" stroke="#111" stroke-width="4"/><text class="bs" x="1169" y="2016">0.5</text></g>

<!-- legend -->
<g id="legend">
<rect x="1049" y="2122" width="941" height="372" rx="24" fill="#fff" stroke="#111" stroke-width="5"/>
<text class="lh" x="1071" y="2166" textLength="507" lengthAdjust="spacingAndGlyphs">Predicted function/target</text>
<ellipse class="o" cx="1087" cy="2209" rx="18" ry="21"/>
<ellipse class="y" cx="1087" cy="2266" rx="18" ry="21"/>
<ellipse class="g" cx="1087" cy="2322" rx="18" ry="21"/>
<ellipse class="p" cx="1087" cy="2379" rx="18" ry="21"/>
<ellipse class="b" cx="1087" cy="2435" rx="18" ry="21"/>
<ellipse class="r" cx="1550" cy="2209" rx="18" ry="21"/>
<ellipse class="k" cx="1550" cy="2266" rx="18" ry="21"/>
<ellipse class="t" cx="1550" cy="2322" rx="18" ry="21"/>
<ellipse class="i" cx="1550" cy="2379" rx="18" ry="21"/>
<ellipse class="a" cx="1550" cy="2435" rx="18" ry="21"/>
<text class="lt" x="1124" y="2221">Nuclease</text>
<text class="lt" x="1124" y="2278">Nucleic acid deaminase</text>
<text class="lt" x="1124" y="2335">Peptidoglycan hydrolase</text>
<text class="lt" x="1124" y="2392">Lipase</text>
<text class="lt" x="1124" y="2448">Unknown function</text>
<text class="lt" x="1585" y="2221">Targets mammalian cells</text>
<text class="lt" x="1585" y="2278">Targets fungal cells</text>
<text class="lt" x="1585" y="2334">Cell-wall targetting</text>
<text class="lt" x="1585" y="2392">Other function</text>
<text class="lt" x="1585" y="2443">Lipase + Akt pathway</text>
<text class="lt" x="1585" y="2482">activator</text>
</g>
</svg>
